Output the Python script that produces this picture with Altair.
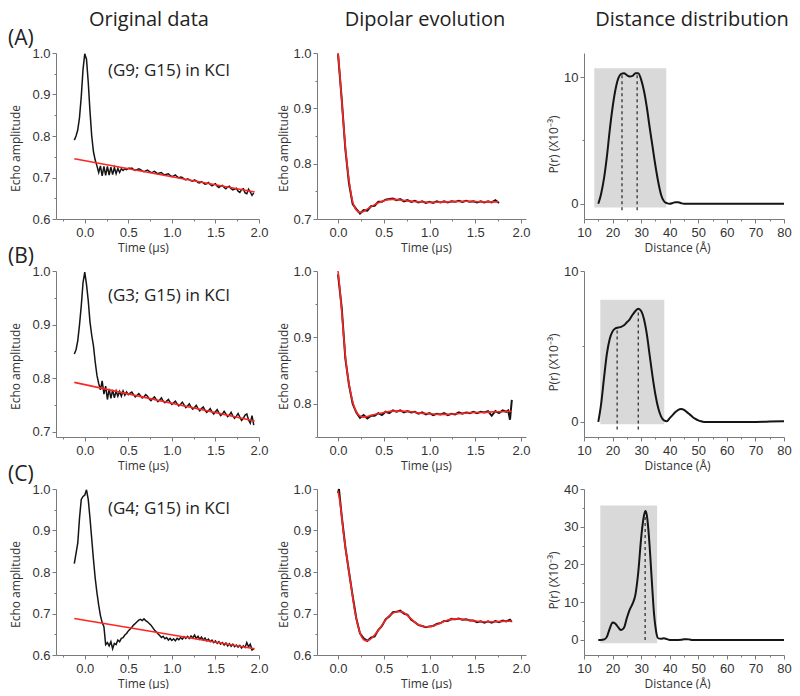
import altair as alt
import pandas as pd

# ---------------- data ----------------
col_titles = ["Original data", "Dipolar evolution", "Distance distribution"]
panel_tags = ["(A)", "(B)", "(C)"]
sample_labels = ["(G9; G15) in KCl", "(G3; G15) in KCl", "(G4; G15) in KCl"]

# original echo data, sampled every 0.02 us from -0.12 us
orig_t = [round(-0.12 + 0.02 * i, 2) for i in range(104)]
origA = [0.790, 0.800, 0.815, 0.845, 0.895, 0.960, 0.998, 0.985, 0.930,
         0.860, 0.800, 0.762, 0.742, 0.728, 0.712, 0.728, 0.704, 0.727,
         0.705, 0.727, 0.706, 0.725, 0.707, 0.724, 0.709, 0.722, 0.712,
         0.721, 0.717, 0.721, 0.719, 0.722,
         0.722, 0.723, 0.719, 0.717, 0.719, 0.721, 0.719, 0.716, 0.714, 0.716,
         0.718, 0.715, 0.712, 0.713, 0.715, 0.712, 0.709, 0.711, 0.712, 0.708,
         0.706, 0.708, 0.709, 0.705, 0.702, 0.704, 0.706, 0.702, 0.699, 0.701,
         0.700, 0.696, 0.694, 0.697, 0.695, 0.692, 0.691, 0.694, 0.692, 0.688,
         0.687, 0.690, 0.687, 0.684, 0.685, 0.688, 0.683, 0.680, 0.683, 0.685,
         0.679, 0.676, 0.679, 0.681, 0.676, 0.673, 0.677, 0.679, 0.673, 0.670,
         0.672, 0.674, 0.667, 0.664, 0.671, 0.673, 0.663, 0.661, 0.672, 0.665,
         0.657, 0.663]
origB = [0.845, 0.853, 0.870, 0.900, 0.935, 0.978, 0.998, 0.975, 0.945,
         0.905, 0.880, 0.860, 0.830, 0.805, 0.790, 0.778, 0.795, 0.770,
         0.785, 0.760, 0.780, 0.762, 0.778, 0.763, 0.776, 0.766, 0.775,
         0.766, 0.776, 0.768, 0.774, 0.769,
         0.772, 0.774, 0.769, 0.765, 0.768, 0.771, 0.767, 0.763, 0.765, 0.769,
         0.766, 0.761, 0.758, 0.762, 0.765, 0.760, 0.756, 0.759, 0.763, 0.757,
         0.754, 0.757, 0.760, 0.755, 0.751, 0.754, 0.757, 0.752, 0.748, 0.751,
         0.755, 0.750, 0.745, 0.748, 0.752, 0.746, 0.742, 0.745, 0.749, 0.743,
         0.739, 0.743, 0.746, 0.740, 0.736, 0.739, 0.743, 0.737, 0.733, 0.737,
         0.741, 0.735, 0.730, 0.733, 0.738, 0.733, 0.728, 0.731, 0.736, 0.729,
         0.725, 0.729, 0.734, 0.727, 0.721, 0.725, 0.731, 0.733, 0.722, 0.716,
         0.730, 0.712]
origC = [0.820, 0.845, 0.870, 0.930, 0.975, 0.982, 0.985, 0.998, 0.975,
         0.930, 0.880, 0.830, 0.785, 0.750, 0.720, 0.695, 0.678, 0.668,
         0.625, 0.630, 0.622, 0.632, 0.615, 0.628, 0.625, 0.636, 0.632,
         0.640, 0.642, 0.648, 0.652, 0.658,
         0.662, 0.667, 0.672, 0.676, 0.680, 0.684, 0.686, 0.683, 0.687, 0.683,
         0.680, 0.676, 0.672, 0.666, 0.660, 0.656, 0.651, 0.647, 0.642, 0.645,
         0.639, 0.642, 0.636, 0.640, 0.635, 0.639, 0.634, 0.640, 0.637, 0.642,
         0.638, 0.644, 0.640, 0.645, 0.640, 0.646, 0.641, 0.648, 0.640, 0.645,
         0.638, 0.643, 0.636, 0.641, 0.634, 0.638, 0.632, 0.636, 0.630, 0.634,
         0.628, 0.632, 0.626, 0.630, 0.624, 0.629, 0.622, 0.627, 0.621, 0.626,
         0.620, 0.624, 0.619, 0.623, 0.617, 0.622, 0.618, 0.630, 0.620, 0.626,
         0.612, 0.615]
bg_fit_t = [-0.12, 1.95]
bg_fitA = [0.745, 0.665]
bg_fitB = [0.792, 0.720]
bg_fitC = [0.688, 0.615]

# dipolar evolution: fits (red) and data (black)
dipA_fit_t = [0, 0.02, 0.04, 0.06, 0.08, 0.10, 0.12, 0.14, 0.16, 0.18, 0.20, 0.22, 0.24,
              0.27, 0.30, 0.35, 0.40, 0.45, 0.50, 0.55, 0.60, 0.65, 0.70, 0.80, 0.90,
              1.00, 1.10, 1.20, 1.30, 1.40, 1.50, 1.60, 1.75]
dipA_fit = [1.000, 0.960, 0.915, 0.870, 0.830, 0.797, 0.770, 0.748, 0.731, 0.722, 0.716,
            0.713, 0.712, 0.713, 0.716, 0.721, 0.726, 0.730, 0.733, 0.735, 0.7355, 0.735,
            0.734, 0.732, 0.731, 0.730, 0.7305, 0.731, 0.7315, 0.732, 0.7315, 0.731, 0.731]
dipA_dat_t = [round(0.04 * i, 2) for i in range(45)]
dipA_dat = [0.998, 0.917, 0.826, 0.764, 0.727, 0.718, 0.710, 0.716, 0.715, 0.723,
            0.724, 0.731, 0.731, 0.735, 0.736, 0.737, 0.734, 0.736, 0.732, 0.734,
            0.731, 0.733, 0.730, 0.732, 0.729, 0.731, 0.729, 0.732, 0.730, 0.732,
            0.730, 0.732, 0.731, 0.733, 0.731, 0.733, 0.731, 0.732, 0.730, 0.732,
            0.730, 0.732, 0.730, 0.734, 0.729]

dipB_fit_t = [0, 0.02, 0.04, 0.06, 0.08, 0.10, 0.12, 0.14, 0.16, 0.18, 0.20, 0.235, 0.28,
              0.32, 0.40, 0.50, 0.60, 0.70, 0.80, 0.90, 1.00, 1.10, 1.20, 1.30, 1.40, 1.50,
              1.60, 1.70, 1.80, 1.90]
dipB_fit = [1.000, 0.972, 0.940, 0.905, 0.872, 0.848, 0.830, 0.815, 0.803, 0.794,
            0.788, 0.782, 0.780, 0.781, 0.784, 0.787, 0.789, 0.789, 0.788, 0.786,
            0.785, 0.784, 0.784, 0.785, 0.786, 0.787, 0.787, 0.788, 0.788, 0.789]
dipB_dat_t = [round(0.04 * i, 2) for i in range(47)] + [1.86, 1.88, 1.90]
dipB_dat = [0.995, 0.945, 0.868, 0.828, 0.800, 0.787, 0.779, 0.783, 0.778, 0.782,
            0.782, 0.786, 0.783, 0.788, 0.786, 0.790, 0.788, 0.790, 0.787, 0.789,
            0.787, 0.788, 0.785, 0.787, 0.784, 0.786, 0.783, 0.785, 0.784, 0.786,
            0.783, 0.785, 0.784, 0.787, 0.785, 0.787, 0.786, 0.788, 0.786, 0.788,
            0.787, 0.789, 0.782, 0.789, 0.786, 0.790, 0.788,
            0.790, 0.776, 0.806]

dipC_fit_t = [0, 0.02, 0.04, 0.06, 0.08, 0.10, 0.12, 0.14, 0.16, 0.18, 0.20, 0.22, 0.24,
              0.26, 0.28, 0.31, 0.34, 0.37, 0.40, 0.45, 0.50, 0.55, 0.60, 0.65, 0.70,
              0.75, 0.80, 0.85, 0.90, 0.95, 1.00, 1.05, 1.10, 1.15, 1.20, 1.30, 1.40,
              1.50, 1.60, 1.70, 1.80, 1.90]
dipC_fit = [0.995, 0.970, 0.935, 0.893, 0.860, 0.830, 0.800, 0.770, 0.740, 0.710,
            0.688, 0.668, 0.653, 0.643, 0.637, 0.634, 0.636, 0.641, 0.648, 0.662,
            0.678, 0.692, 0.701, 0.705, 0.704, 0.697, 0.687, 0.677, 0.671, 0.668,
            0.668, 0.671, 0.675, 0.680, 0.684, 0.687, 0.685, 0.682, 0.680, 0.680,
            0.681, 0.682]
dipC_dat_t = [0, 0.01] + [round(0.04 * i, 2) for i in range(1, 48)] + [1.90]
dipC_dat = [0.990, 1.000,
            0.935, 0.860, 0.800, 0.742, 0.688, 0.652, 0.640, 0.634, 0.642,
            0.645, 0.660, 0.670, 0.686, 0.693, 0.703, 0.704, 0.707, 0.700, 0.697,
            0.685, 0.679, 0.672, 0.670, 0.667, 0.669, 0.670, 0.675, 0.677, 0.682,
            0.682, 0.687, 0.686, 0.688, 0.685, 0.686, 0.683, 0.683, 0.679, 0.681,
            0.678, 0.681, 0.678, 0.682, 0.679, 0.683, 0.681, 0.685,
            0.680]

# distance distributions P(r) x 10^-3
distA_r = list(range(15, 46)) + [50, 55, 60, 65, 70, 75, 80]
distA = [0.0, 0.8, 2.0, 3.7, 5.8, 7.6, 9.0, 9.9, 10.25, 10.3,
         10.15, 10.05, 10.1, 10.3, 10.3, 9.8, 8.9, 7.6, 6.0, 4.5,
         3.0, 1.7, 0.7, 0.2, 0.05, 0.0, 0.05, 0.13, 0.12, 0.05, 0.0,
         0, 0, 0, 0, 0, 0, 0]
distB_r = list(range(15, 53)) + [55, 60, 65, 70, 75, 80]
distB = [0.0, 1.2, 2.9, 4.5, 5.5, 6.0, 6.2, 6.25, 6.3, 6.4,
         6.6, 6.8, 7.1, 7.35, 7.5, 7.35, 6.8, 5.8, 4.4, 3.0,
         1.8, 0.9, 0.35, 0.1, 0.05, 0.25, 0.45, 0.65, 0.8, 0.85,
         0.8, 0.65, 0.5, 0.33, 0.2, 0.1, 0.04, 0.0,
         0, 0, 0, 0, 0.02, 0.05]
distC_r = list(range(15, 31)) + [30.5, 31, 31.5, 32, 32.5, 33, 33.5, 34, 34.5, 35, 35.5,
                                 36, 37, 38, 39, 40, 42, 44, 45, 46, 47, 48, 50, 55, 60,
                                 65, 70, 75, 80]
distC = [0.0, 0.0, 0.1, 0.8, 3.0, 4.6, 4.3, 3.3, 2.6, 3.2, 5.8, 8.0, 9.6, 12.0, 18.0, 27.0,
         30.5, 33.0, 34.2, 33.0, 29.5, 24.5, 18.5, 12.5, 7.0, 3.5, 1.2,
         0.4, 0.3, 0.45, 0.2, 0.0, 0.0, 0.05, 0.15, 0.2, 0.1, 0.0, 0, 0, 0,
         0, 0, 0, 0]

# shaded regions and dashed markers
shade_x0 = [13.6, 15.7, 15.7]
shade_x1 = [38.8, 38.1, 35.6]
shade_y0 = [-0.3, -0.15, -0.9]
shade_y1 = [10.7, 8.1, 35.6]
dashA_x, dashA_lo, dashA_hi = [23.3, 28.6], [-0.5, -0.5], [10.3, 10.3]
dashB_x, dashB_lo, dashB_hi = [21.6, 29.0], [-0.5, -0.5], [6.25, 7.5]
dashC_x, dashC_lo, dashC_hi = [31.4], [0.0], [34.0]

# axis tick values (majors labelled, minors unlabelled)
xticks_orig = [-0.25, 0, 0.25, 0.5, 0.75, 1.0, 1.25, 1.5, 1.75, 2.0]
xticks_dip = [0, 0.25, 0.5, 0.75, 1.0, 1.25, 1.5, 1.75, 2.0]
xticks_dist = [10, 15, 20, 25, 30, 35, 40, 45, 50, 55, 60, 65, 70, 75, 80]
yticks_06 = [0.6, 0.65, 0.7, 0.75, 0.8, 0.85, 0.9, 0.95, 1.0]
yticks_07 = [0.7, 0.75, 0.8, 0.85, 0.9, 0.95, 1.0]
yticks_075 = [0.75, 0.8, 0.85, 0.9, 0.95, 1.0]
yticks_10 = [0, 5, 10]
yticks_40 = [0, 5, 10, 15, 20, 25, 30, 35, 40]

# ---------------- style ----------------
# the whole chart must stay within the 784px wide page body
W = [203, 209, 200]
H = 166
RED = "#ff2424"
BLACK = "#151515"
AX = "#7a7a7a"
LFONT = "Liberation Sans"
TFONT = "Open Sans"

T_HALF = "abs(datum.value * 2 - round(datum.value * 2)) < 0.001"
T_TENTH = "abs(datum.value * 10 - round(datum.value * 10)) < 0.001"
T_TEN = "abs(datum.value / 10 - round(datum.value / 10)) < 0.001"


def mk_axis(values, test, fmt, title, major, **kw):
    return alt.Axis(
        values=values,
        labelExpr=f"({test}) ? format(datum.value, '{fmt}') : ''",
        tickSize={"condition": {"test": test, "value": major}, "value": 2},
        title=title, grid=False, domainColor=AX, tickColor=AX, domainWidth=1,
        tickWidth=1, labelColor="#333", labelFont=LFONT, labelFontSize=13,
        titleFont=TFONT, titleFontSize=12, titleFontWeight="normal",
        titleColor="#333", labelOverlap=False, labelFlush=False, **kw)


def text_layer(s, x, y, size, align="left", color="#222"):
    return alt.Chart(pd.DataFrame({"s": [s]})).mark_text(
        font=TFONT, fontSize=size, align=align, baseline="alphabetic", color=color
    ).encode(text="s:N", x=alt.value(x), y=alt.value(y))


def enc(xs, xa, ys, ya, xf="t", yf="v"):
    return dict(x=alt.X(f"{xf}:Q", scale=xs, axis=xa),
                y=alt.Y(f"{yf}:Q", scale=ys, axis=ya))


TITLE_Y = -27
TITLE_SIZE = 20
TAG_SIZE = 21


def orig_panel(i, vals, fit_v, ydom, yticks, tag_y, lab_y):
    xs = alt.Scale(domain=[-0.33, 2.0], nice=False, zero=False)
    ys = alt.Scale(domain=ydom, nice=False, zero=False)
    xa = mk_axis(xticks_orig, T_HALF, ".1f", "Time (µs)", 4, titleX=87,
                 titlePadding=3, labelPadding=3)
    ya = mk_axis(yticks, T_TENTH, ".1f", "Echo amplitude", 4, titleY=H / 2 + 12,
                 titlePadding=9, labelPadding=2)
    black = alt.Chart(pd.DataFrame({"t": orig_t, "v": vals})).mark_line(
        color=BLACK, strokeWidth=1.5).encode(**enc(xs, xa, ys, ya))
    red = alt.Chart(pd.DataFrame({"t": bg_fit_t, "v": fit_v})).mark_line(
        color=RED, strokeWidth=1.6).encode(**enc(xs, xa, ys, ya))
    layers = [black, red,
              text_layer(panel_tags[i], -48, tag_y, TAG_SIZE),
              text_layer(sample_labels[i], 52, lab_y, 17)]
    if i == 0:
        layers.append(text_layer(col_titles[0], 93, TITLE_Y, TITLE_SIZE, align="center"))
    return alt.layer(*layers).properties(width=W[0], height=H)


def dip_panel(i, dt, dv, ft, fv, ydom, yticks):
    xs = alt.Scale(domain=[-0.23, 2.055], nice=False, zero=False)
    ys = alt.Scale(domain=ydom, nice=False, zero=False)
    xa = mk_axis(xticks_dip, T_HALF, ".1f", "Time (µs)", 4, titleX=109,
                 titlePadding=3, labelPadding=3)
    ya = mk_axis(yticks, T_TENTH, ".1f", "Echo  amplitude", 4, titleY=H / 2 + 12,
                 titlePadding=2, labelPadding=2)
    black = alt.Chart(pd.DataFrame({"t": dt, "v": dv})).mark_line(
        color=BLACK, strokeWidth=2).encode(**enc(xs, xa, ys, ya))
    red = alt.Chart(pd.DataFrame({"t": ft, "v": fv})).mark_line(
        color=RED, strokeWidth=1.6, interpolate="monotone").encode(**enc(xs, xa, ys, ya))
    layers = [black, red]
    if i == 0:
        layers.append(text_layer(col_titles[1], 108, TITLE_Y, TITLE_SIZE, align="center"))
    return alt.layer(*layers).properties(width=W[1], height=H)


def dist_panel(i, r, p, ydom, yticks, dx, dlo, dhi):
    xs = alt.Scale(domain=[10, 80], nice=False, zero=False)
    ys = alt.Scale(domain=ydom, nice=False, zero=False)
    xa = mk_axis(xticks_dist, T_TEN, "d", "Distance (Å)", 4, titleX=93,
                 titlePadding=3, labelPadding=3)
    ya = mk_axis(yticks, T_TEN, "d", "P(r) (X10⁻³)", 4, titleY=H / 2 + 8,
                 titlePadding=3, labelPadding=2)
    shade = alt.Chart(pd.DataFrame({"t": [shade_x0[i]], "t2": [shade_x1[i]],
                                    "v": [shade_y0[i]], "v2": [shade_y1[i]]})).mark_rect(
        color="#d9d9d9").encode(x2="t2:Q", y2="v2:Q", **enc(xs, xa, ys, ya))
    dash = alt.Chart(pd.DataFrame({"t": dx, "v": dlo, "v2": dhi})).mark_rule(
        color="#333", strokeWidth=1.3, strokeDash=[3, 3]).encode(
        y2="v2:Q", **enc(xs, xa, ys, ya))
    line = alt.Chart(pd.DataFrame({"t": r, "v": p})).mark_line(
        color=BLACK, strokeWidth=2, interpolate="monotone").encode(**enc(xs, xa, ys, ya))
    layers = [shade, dash, line]
    if i == 0:
        layers.append(text_layer(col_titles[2], 108, TITLE_Y, TITLE_SIZE, align="center"))
    return alt.layer(*layers).properties(width=W[2], height=H)


panels = [
    orig_panel(0, origA, bg_fitA, [0.6, 1.0], yticks_06, -8, 23),
    dip_panel(0, dipA_dat_t, dipA_dat, dipA_fit_t, dipA_fit, [0.7, 1.0], yticks_07),
    dist_panel(0, distA_r, distA, [-1.2, 11.9], yticks_10, dashA_x, dashA_lo, dashA_hi),
    orig_panel(1, origB, bg_fitB, [0.69, 1.0], yticks_07, -8, 30),
    dip_panel(1, dipB_dat_t, dipB_dat, dipB_fit_t, dipB_fit, [0.75, 1.0], yticks_075),
    dist_panel(1, distB_r, distB, [-1.0, 10.0], yticks_10, dashB_x, dashB_lo, dashB_hi),
    orig_panel(2, origC, bg_fitC, [0.6, 1.0], yticks_06, -8, 25),
    dip_panel(2, dipC_dat_t, dipC_dat, dipC_fit_t, dipC_fit, [0.6, 1.0], yticks_06),
    dist_panel(2, distC_r, distC, [-4, 40], yticks_40, dashC_x, dashC_lo, dashC_hi),
]

chart = alt.concat(
    *panels, columns=3, spacing={"row": 52, "column": 58},
    bounds="flush", align="each"
).resolve_scale(x="independent", y="independent").properties(
    padding={"top": 2, "left": 0, "right": 0, "bottom": 0}, background="white"
).configure_view(stroke=None)

chart.save("out.html", embed_options={"renderer": "svg", "actions": False})
